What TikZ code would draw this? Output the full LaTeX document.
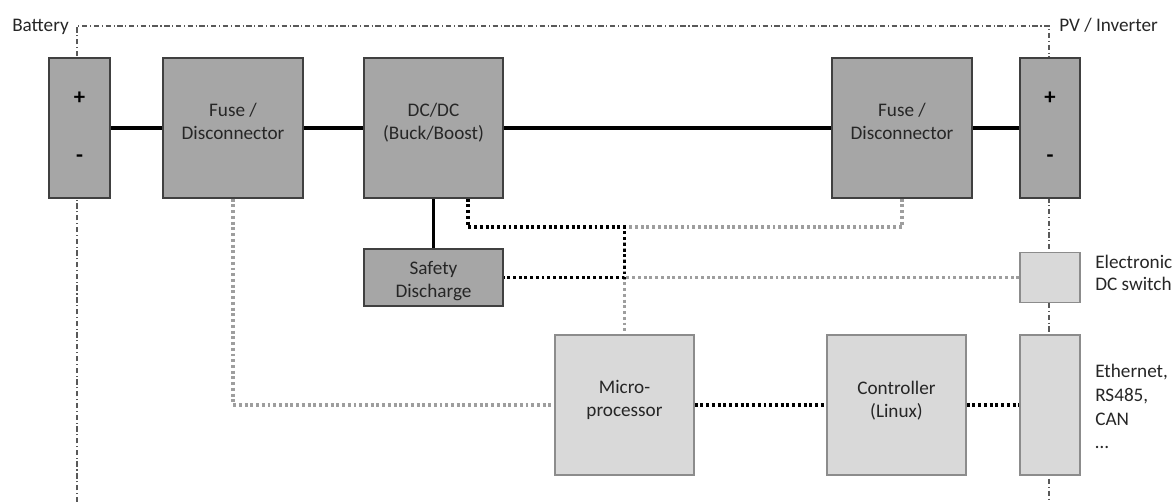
\documentclass[tikz,border=0pt]{standalone}
\usepackage{fontspec}
\setmainfont{Carlito}
\usetikzlibrary{backgrounds,calc}
\definecolor{darkfill}{HTML}{A6A6A6}
\definecolor{darkline}{HTML}{404040}
\definecolor{lightfill}{HTML}{D9D9D9}
\definecolor{lightline}{HTML}{8C8C8C}
\definecolor{sigray}{HTML}{9E9E9E}
\definecolor{txtcol}{HTML}{262626}
\definecolor{framecol}{HTML}{595959}
\begin{document}
\begin{tikzpicture}[x=0.75pt,y=-0.75pt,
  font=\fontsize{14.4pt}{17.3pt}\selectfont, text=txtcol,
  darkbox/.style={draw=darkline, fill=darkfill, line width=1.1pt, inner sep=0pt},
  lightbox/.style={draw=lightline, fill=lightfill, line width=1.1pt, inner sep=0pt},
  txt/.style={align=center, inner sep=0pt},
  sign/.style={inner sep=0pt, font=\fontsize{17pt}{20pt}\selectfont\bfseries, text=black},
  power/.style={line width=2.3pt, black},
  sigblack/.style={line width=2.3pt, black, dash pattern=on 2.2pt off 2.1pt},
  siggray/.style={line width=2.3pt, sigray, dash pattern=on 2.2pt off 2.1pt},
  frame/.style={line width=0.9pt, framecol, dash pattern=on 4pt off 2pt on 0.8pt off 2pt},
  sidelabel/.style={anchor=base west, inner sep=0pt}
]
\useasboundingbox (0,0) rectangle (1174,502);

% top row
\node[darkbox, minimum width=45.75pt, minimum height=105pt] (batt) at (79.5,128) {};
\node[sign] (battplus) at (79.5,98) {+};
\node[sign] (battminus) at (79.5,159) {-};
\node[darkbox, minimum width=105pt, minimum height=105pt] (fuse1) at (233,128) {};
\node[txt] (fuse1t) at (233,121) {Fuse /\\Disconnector};
\node[darkbox, minimum width=104.25pt, minimum height=105pt] (dcdc) at (433.5,128) {};
\node[txt] (dcdct) at (433.5,123) {DC/DC\\(Buck/Boost)};
\node[darkbox, minimum width=105pt, minimum height=105pt] (fuse2) at (902,128) {};
\node[txt] (fuse2t) at (902,121) {Fuse /\\Disconnector};
\node[darkbox, minimum width=45pt, minimum height=105pt] (pv) at (1050,128) {};
\node[sign] (pvplus) at (1050,98) {+};
\node[sign] (pvminus) at (1050,159) {-};

% middle
\node[darkbox, minimum width=104.25pt, minimum height=42.75pt] (safety) at (433.5,277.5) {};
\node[txt] (safetyt) at (433.5,281) {Safety\\Discharge};
\node[lightbox, minimum width=45pt, minimum height=37.5pt] (eswitch) at (1050,277.5) {};

% bottom
\node[lightbox, minimum width=104.25pt, minimum height=105pt] (micro) at (624.5,405) {};
\node[txt] (microt) at (624.5,400) {Micro-\\processor};
\node[lightbox, minimum width=104.25pt, minimum height=105pt] (ctrl) at (896.5,405) {};
\node[txt] (ctrlt) at (896.5,400.5) {Controller\\(Linux)};
\node[lightbox, minimum width=45pt, minimum height=105pt] (comm) at (1050,405) {};

% labels
\node[anchor=base east, inner sep=0pt] (batlbl) at (69,32) {Battery};
\node[anchor=base west, inner sep=0pt] (pvlbl) at (1059,32) {PV / Inverter};
\node[sidelabel] (es1) at (1095,268) {Electronic};
\node[sidelabel] (es2) at (1095,291) {DC switch};
\node[sidelabel] (cm1) at (1095,377) {Ethernet,};
\node[sidelabel] (cm2) at (1095,401) {RS485,};
\node[sidelabel] (cm3) at (1095,425) {CAN};
\node[sidelabel] (cm4) at (1095,448) {\dots};

\coordinate (j1) at (624.5,227);
\coordinate (j2) at (624.5,277.5);
\coordinate (dcsig) at ($(dcdc.south)+(34.5,0)$);

\begin{scope}[on background layer]
  % frame
  \draw[frame] (77,502) -- (77,26) -- (1049,26) -- (1049,502);
  % power path
  \draw[power] (batt.east) -- (fuse1.west);
  \draw[power] (fuse1.east) -- (dcdc.west);
  \draw[power] (dcdc.east) -- (fuse2.west);
  \draw[power] (fuse2.east) -- (pv.west);
  \draw[power] (dcdc.south) -- (safety.north);
  % gray signals
  \draw[siggray] (fuse2.south) |- (j1) -- (micro.north);
  \draw[siggray] (eswitch.west) -- (j2);
  \draw[siggray] (fuse1.south) |- (micro.west);
  % black signals
  \draw[sigblack] (dcsig) |- (j1) -- (j2) -- (safety.east);
  \draw[sigblack] (micro.east) -- (ctrl.west);
  \draw[sigblack] (ctrl.east) -- (comm.west);
\end{scope}
\end{tikzpicture}
\end{document}
